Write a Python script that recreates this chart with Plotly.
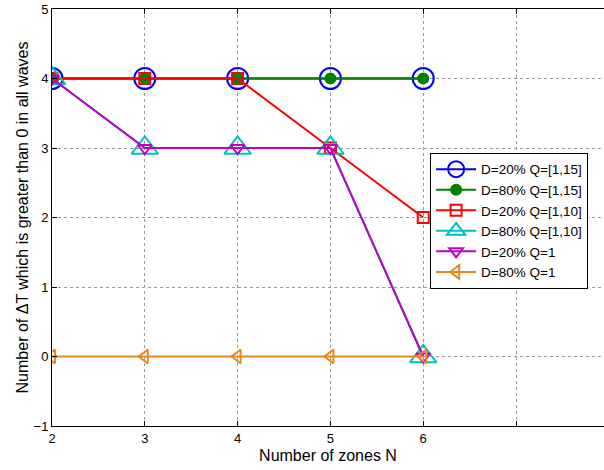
import plotly.graph_objects as go

zones = [2, 3, 4, 5, 6]
d20_q1_15 = [4, 4, 4, 4, 4]
d80_q1_15 = [4, 4, 4, 4, 4]
d20_q1_10 = [4, 4, 4, 3, 2]
d80_q1_10 = [4, 3, 3, 3, 0]
d20_q1 = [4, 3, 3, 3, 0]
d80_q1 = [0, 0, 0, 0, 0]

x_tickvals = [2, 3, 4, 5, 6, 7]
x_ticktext = ["2", "3", "4", "5", "6", ""]
y_tickvals = [-1, 0, 1, 2, 3, 4, 5]

series = [
    ("D=20% Q=[1,15]", d20_q1_15, "#0000FF", "circle-open", 21),
    ("D=80% Q=[1,15]", d80_q1_15, "#007F00", "circle", 10),
    ("D=20% Q=[1,10]", d20_q1_10, "#FF0000", "square-open", 11),
    ("D=80% Q=[1,10]", d80_q1_10, "#00BFBF", "triangle-up-open", 23),
    ("D=20% Q=1", d20_q1, "#BF00BF", "triangle-down-open", 12),
    ("D=80% Q=1", d80_q1, "#E8891E", "triangle-left-open", 12),
]

fig = go.Figure()
for name, ys, color, sym, size in series:
    fig.add_trace(go.Scatter(
        x=zones, y=ys, name=name, mode="lines+markers",
        line=dict(color=color, width=2),
        marker=dict(symbol=sym, size=size, color=color,
                    line=dict(color=color, width=2)),
    ))

font = "Liberation Sans, Arial, sans-serif"
fig.update_layout(
    width=604, height=470,
    margin=dict(l=52, r=0, t=9, b=44),
    paper_bgcolor="white", plot_bgcolor="white",
    font=dict(family=font, size=13, color="black"),
    showlegend=True,
    legend=dict(
        x=0.685, y=0.655, xanchor="left", yanchor="top",
        bgcolor="white", bordercolor="black", borderwidth=1,
        font=dict(family=font, size=13.5, color="black"),
        itemwidth=40, tracegroupgap=0,
    ),
)
fig.update_xaxes(
    range=[2, 7.948], tickvals=x_tickvals, ticktext=x_ticktext,
    showgrid=True, gridcolor="#999999", griddash="dot", gridwidth=1,
    showline=True, linecolor="black", linewidth=1, mirror="ticks",
    ticks="inside", ticklen=5, tickcolor="black",
    zeroline=False, automargin=False,
    tickfont=dict(size=13),
    title=dict(text="Number of zones N", font=dict(size=16), standoff=5),
)
fig.update_yaxes(
    range=[-1, 5], tickvals=y_tickvals,
    showgrid=True, gridcolor="#999999", griddash="dot", gridwidth=1,
    showline=True, linecolor="black", linewidth=1, mirror=False,
    ticks="inside", ticklen=5, tickcolor="black",
    zeroline=False, automargin=False,
    tickfont=dict(size=13),
    title=dict(text="Number of ΔT which is greater than 0 in all waves",
               font=dict(size=16), standoff=0),
)
# remove the browser's default 8px page margin so the figure fills the window
fig.write_html("out.html",
               config={"displayModeBar": False},
               post_script="document.body.style.margin='0';document.body.style.overflow='hidden';")
